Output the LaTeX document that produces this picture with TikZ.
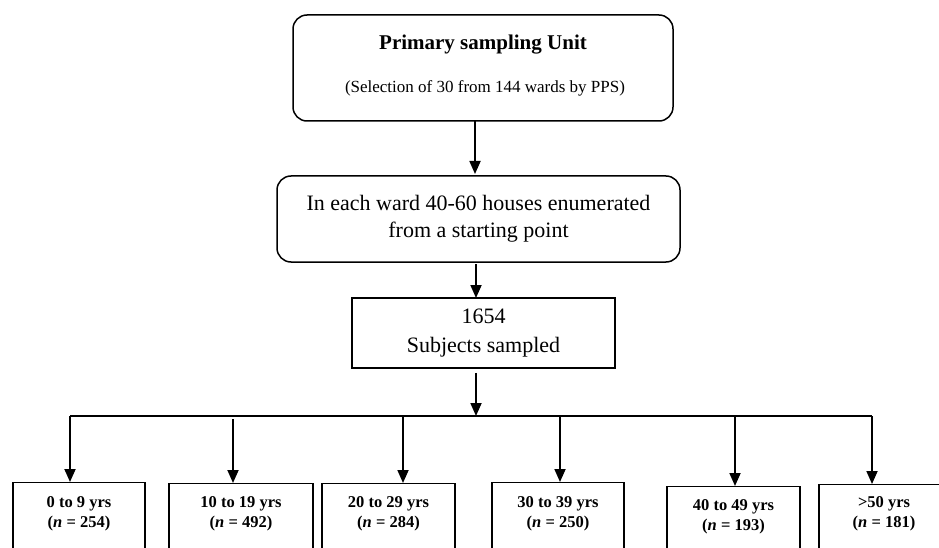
\documentclass[tikz,border=0pt]{standalone}
\usepackage{fontspec}
\setmainfont{Liberation Serif}
\usetikzlibrary{arrows.meta}
\begin{document}
\begin{tikzpicture}[x=1pt,y=-1pt,
  box/.style={draw, line width=1.5pt, inner sep=0pt},
  rbox/.style={box, rounded corners=14pt},
  arr/.style={line width=1.8pt, -{Triangle[width=11pt,length=13pt]}},
  agebox/.style={draw, line width=1.3pt, anchor=north, inner sep=0pt, minimum height=90pt},
  agetext/.style={align=center, inner sep=0pt, font=\fontsize{16.5}{20}\selectfont\bfseries}]
\useasboundingbox (0,0) rectangle (939,548);
\clip (0,0) rectangle (939,548);

\node[rbox, minimum width=380pt, minimum height=106pt] (psu) at (483,68) {};
\node[inner sep=0pt, font=\fontsize{21}{22}\selectfont\bfseries] (psut) at (483,45) {Primary sampling Unit};
\node[inner sep=0pt, font=\fontsize{17}{18}\selectfont] (psus) at (485,88) {(Selection of 30 from 144 wards by PPS)};

\node[rbox, minimum width=403pt, minimum height=86pt, align=center, font=\fontsize{22}{27}\selectfont] (ward) at (478.5,219) {In each ward 40-60 houses enumerated\\from a starting point};

\node[box, minimum width=263pt, minimum height=70pt, align=center, font=\fontsize{22}{29}\selectfont] (subj) at (483.5,333) {1654\\Subjects sampled};

\coordinate (top1) at (475,121);
\draw[arr] (top1) -- (475,174);
\draw[arr] (476,264) -- (476,298);

% bottom boxes
\node[agebox, minimum width=132pt] (a1) at (79,482) {};
\node[agebox, minimum width=144pt] (a2) at (241,483) {};
\node[agebox, minimum width=133pt] (a3) at (388.5,483) {};
\node[agebox, minimum width=132pt] (a4) at (558,482) {};
\node[agebox, minimum width=133pt] (a5) at (733.5,486) {};
\node[agebox, minimum width=126pt] (a6) at (882,484) {};

\node[agetext] (t1) at (79,514) {0 to 9 yrs\\(\textit{n} = 254)};
\node[agetext] (t2) at (241,514) {10 to 19 yrs\\(\textit{n} = 492)};
\node[agetext] (t3) at (388.5,514) {20 to 29 yrs\\(\textit{n} = 284)};
\node[agetext] (t4) at (558,514) {30 to 39 yrs\\(\textit{n} = 250)};
\node[agetext] (t5) at (733.5,517) {40 to 49 yrs\\(\textit{n} = 193)};
\node[agetext] (t6) at (884,514) {\textgreater50 yrs\\(\textit{n} = 181)};

% distribution
\coordinate (hc) at (476,416);
\coordinate (h1) at (70,416);
\coordinate (h2) at (233,419);
\coordinate (h3) at (403,416);
\coordinate (h4) at (560,416);
\coordinate (h5) at (735,416);
\coordinate (h6) at (872,416);
\draw[arr] (subj.south -| hc) ++(0,4) -- (hc);
\draw[line width=1.8pt] (h1) -- (h6);
\draw[arr] (h1) -- (h1 |- a1.north);
\draw[arr] (h2) -- (h2 |- a2.north);
\draw[arr] (h3) -- (h3 |- a3.north);
\draw[arr] (h4) -- (h4 |- a4.north);
\draw[arr] (h5) -- (h5 |- a5.north);
\draw[arr] (h6) -- (h6 |- a6.north);
\end{tikzpicture}
\end{document}
